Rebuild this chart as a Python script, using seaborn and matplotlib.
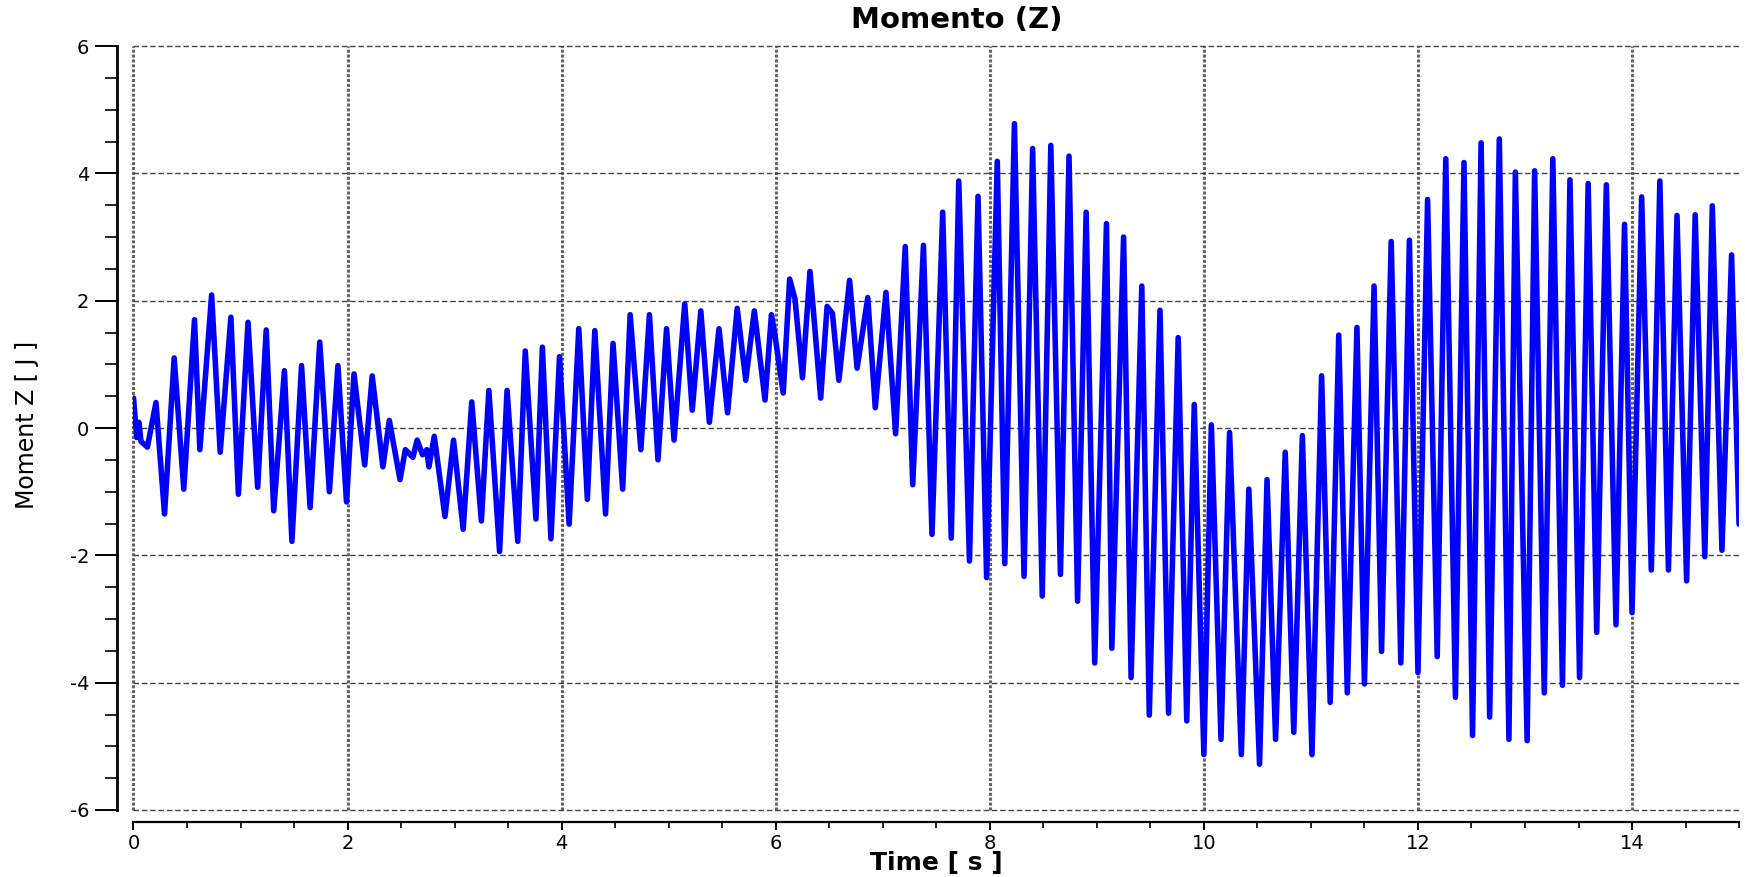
import matplotlib
matplotlib.use("Agg")
import matplotlib.pyplot as plt
from matplotlib.ticker import MultipleLocator
import numpy as np
import pandas as pd
import seaborn as sns

# Sampled turning points of the Z moment signal
time_s = [
    0.00, 0.03, 0.05, 0.07, 0.13, 0.21, 0.29, 0.38, 0.47, 0.57, 0.62, 0.73, 0.81, 0.91, 0.98,
    1.07, 1.16, 1.24, 1.31, 1.41, 1.48, 1.57, 1.65, 1.74, 1.83, 1.91, 1.99,
    2.06, 2.16, 2.23, 2.33, 2.39, 2.49, 2.54, 2.61, 2.65, 2.70, 2.74, 2.76, 2.81, 2.91, 2.99,
    3.08, 3.16, 3.25, 3.32, 3.42, 3.49, 3.59, 3.66, 3.76, 3.82, 3.90, 3.98,
    4.07, 4.16, 4.24, 4.31, 4.41, 4.48, 4.57, 4.64, 4.74, 4.82, 4.90, 4.98,
    5.05, 5.15, 5.22, 5.30, 5.38, 5.47, 5.55, 5.64, 5.72, 5.80, 5.90, 5.96, 5.99,
    6.07, 6.13, 6.18, 6.25, 6.32, 6.35, 6.42, 6.48, 6.53, 6.59, 6.69, 6.76, 6.86, 6.93,
    7.03, 7.12, 7.21, 7.28, 7.38, 7.46, 7.56, 7.64, 7.71, 7.81, 7.89, 7.97,
    8.07, 8.14, 8.23, 8.32, 8.40, 8.49, 8.57, 8.66, 8.74, 8.82, 8.90, 8.98,
    9.09, 9.14, 9.25, 9.32, 9.42, 9.49, 9.59, 9.67, 9.76, 9.84, 9.91,
    10.00, 10.07, 10.16, 10.24, 10.35, 10.42, 10.52, 10.59, 10.67, 10.76, 10.84, 10.92,
    11.01, 11.10, 11.18, 11.26, 11.34, 11.43, 11.50, 11.59, 11.66, 11.75, 11.84, 11.92,
    12.00, 12.09, 12.18, 12.26, 12.35, 12.43, 12.51, 12.59, 12.67, 12.76, 12.85, 12.91,
    13.02, 13.09, 13.18, 13.26, 13.35, 13.42, 13.51, 13.59, 13.67, 13.76, 13.85, 13.93,
    14.00, 14.09, 14.18, 14.26, 14.34, 14.42, 14.51, 14.59, 14.68, 14.75, 14.84, 14.93,
    15.00,
]
moment_z = [
    0.47, -0.15, 0.09, -0.21, -0.30, 0.40, -1.35, 1.10, -0.96, 1.70, -0.34, 2.09, -0.38, 1.74, -1.04,
    1.66, -0.93, 1.54, -1.30, 0.90, -1.78, 0.98, -1.25, 1.35, -1.00, 0.98, -1.16,
    0.85, -0.58, 0.82, -0.61, 0.12, -0.81, -0.34, -0.46, -0.19, -0.42, -0.34, -0.61, -0.13, -1.39, -0.19,
    -1.59, 0.41, -1.46, 0.59, -1.94, 0.59, -1.78, 1.21, -1.43, 1.27, -1.74, 1.12,
    -1.51, 1.56, -1.12, 1.53, -1.35, 1.33, -0.96, 1.78, -0.34, 1.78, -0.50, 1.56,
    -0.19, 1.95, 0.28, 1.84, 0.09, 1.56, 0.24, 1.88, 0.75, 1.84, 0.44, 1.78, 1.49,
    0.55, 2.34, 2.03, 0.79, 2.46, 1.88, 0.47, 1.91, 1.80, 0.75, 2.32, 0.94, 2.05, 0.32,
    2.13, -0.09, 2.85, -0.89, 2.87, -1.67, 3.39, -1.73, 3.88, -2.09, 3.64, -2.35,
    4.19, -2.13, 4.78, -2.33, 4.39, -2.64, 4.44, -2.30, 4.27, -2.72, 3.39, -3.69,
    3.21, -3.46, 3.00, -3.92, 2.23, -4.51, 1.85, -4.48, 1.42, -4.60, 0.37,
    -5.13, 0.05, -4.89, -0.07, -5.13, -0.96, -5.28, -0.81, -4.89, -0.38, -4.78, -0.12,
    -5.13, 0.82, -4.31, 1.46, -4.16, 1.58, -4.02, 2.23, -3.51, 2.93, -3.69, 2.95,
    -3.84, 3.59, -3.59, 4.23, -4.23, 4.17, -4.83, 4.48, -4.54, 4.54, -4.89, 4.02,
    -4.91, 4.04, -4.16, 4.23, -4.04, 3.90, -3.92, 3.84, -3.21, 3.82, -3.09, 3.20,
    -2.90, 3.63, -2.23, 3.88, -2.23, 3.34, -2.40, 3.35, -2.02, 3.49, -1.92, 2.72,
    -1.51,
]

x_ticks = [0, 2, 4, 6, 8, 10, 12, 14]
y_ticks = [-6, -4, -2, 0, 2, 4, 6]

sns.set_style("white")
plt.rcParams["font.family"] = ["DejaVu Sans"]
plt.rcParams["axes.unicode_minus"] = False
plt.rcParams["text.color"] = "black"
plt.rcParams["axes.labelcolor"] = "black"

df = pd.DataFrame({"Time": time_s, "Moment": moment_z})

fig = plt.figure(figsize=(17.45, 8.77), dpi=100)
ax = fig.add_axes([0.0765, 0.0764, 0.9201, 0.8711])

sns.lineplot(data=df, x="Time", y="Moment", ax=ax, sort=False, estimator=None,
             color="#0000FF", linewidth=4.0, zorder=3)
for ln in ax.get_lines():
    ln.set_solid_joinstyle("round")
    ln.set_solid_capstyle("round")

ax.set_xlim(0, 15)
ax.set_ylim(-6, 6)
ax.set_xticks(x_ticks)
ax.set_yticks(y_ticks)
ax.xaxis.set_minor_locator(MultipleLocator(0.5))
ax.yaxis.set_minor_locator(MultipleLocator(0.5))

# grid: dense dotted verticals, dashed horizontals
for xv in x_ticks:
    ax.axvline(xv, color="#666666", linestyle=(0, (1, 0.6)), linewidth=2.2,
               zorder=1, clip_on=False)
for yv in y_ticks:
    ax.axhline(yv, color="#444444", linestyle=(0, (4, 2)), linewidth=1.0,
               zorder=1, clip_on=False)

for side in ("top", "right"):
    ax.spines[side].set_visible(False)
ax.spines["left"].set_position(("outward", 12))
ax.spines["bottom"].set_position(("outward", 8.5))
ax.spines["left"].set_linewidth(2.0)
ax.spines["bottom"].set_linewidth(1.6)
ax.spines["left"].set_color("black")
ax.spines["bottom"].set_color("black")

ax.tick_params(axis="y", which="major", direction="out", length=16, width=1.4,
               labelsize=14, pad=4, colors="black")
ax.tick_params(axis="y", which="minor", direction="out", length=8.5, width=1.4)
ax.tick_params(axis="x", which="major", direction="out", length=6, width=1.4,
               labelsize=14, pad=3, colors="black")
ax.tick_params(axis="x", which="minor", direction="out", length=4, width=1.4)
ax.tick_params(left=True, bottom=True, which="both")

ax.set_xlabel("Time [ s ]", fontsize=18, fontweight="bold", labelpad=-2, color="black")
ax.set_ylabel("")
fig.text(0.0155, 0.515, "Moment Z [ J ]", rotation=90, ha="center", va="center",
         fontsize=17, color="black",
         family=["Liberation Sans Narrow", "DejaVu Sans"])

fig.text(0.548, 0.977, "Momento (Z)", ha="center", va="center",
         fontsize=21, fontweight="bold", color="black")

fig.savefig("out.png", dpi=100, facecolor="white")
